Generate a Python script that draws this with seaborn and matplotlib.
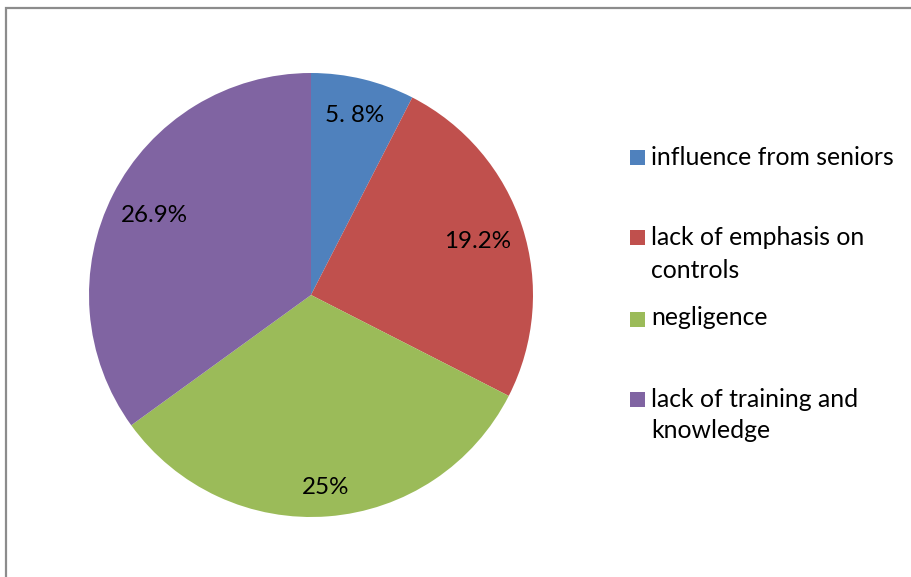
import matplotlib
matplotlib.use("Agg")
import matplotlib.pyplot as plt
from matplotlib.patches import Rectangle
import numpy as np
import seaborn as sns

sns.set_theme(style="white")
plt.rcParams["font.family"] = ["Lato", "DejaVu Sans"]

categories = ["influence from seniors", "lack of emphasis on\ncontrols",
              "negligence", "lack of training and\nknowledge"]
values = [5.8, 19.2, 25.0, 26.9]
value_labels = ["5. 8%", "19.2%", "25%", "26.9%"]
colors = ["#4F81BD", "#C0504D", "#9BBB59", "#8064A2"]

W, H = 912, 577
fig = plt.figure(figsize=(W / 100, H / 100), dpi=100)
fig.patch.set_facecolor("white")

# outer chart frame (only top and left edges fall inside the image)
fig.patches.append(Rectangle((6.5 / W, -0.1), 1.2, (H - 7.5) / H + 0.1,
                             transform=fig.transFigure, fill=False,
                             edgecolor="#8c8c8c", linewidth=1.6))

cx, cy, r = 311, 295, 222
ax = fig.add_axes([(cx - r) / W, (H - cy - r) / H, 2 * r / W, 2 * r / H])
wedges, _ = ax.pie(values, colors=colors, startangle=90, counterclock=False,
                   radius=1.0, wedgeprops=dict(linewidth=0))
ax.set_xlim(-1, 1)
ax.set_ylim(-1, 1)
ax.set_aspect("equal")
ax.axis("off")

label_dist = [0.83, 0.79, 0.87, 0.79]
for w, txt, d in zip(wedges, value_labels, label_dist):
    ang = np.deg2rad((w.theta1 + w.theta2) / 2)
    ax.text(d * np.cos(ang), d * np.sin(ang), txt, ha="center", va="center",
            fontsize=17.4, color="black")

# legend
box_top = [150, 230, 312, 392]
baselines = [[165], [245, 278], [325], [407, 438]]
for c, lab, top, bls in zip(colors, categories, box_top, baselines):
    fig.patches.append(Rectangle((630 / W, (H - top - 15) / H), 15 / W, 15 / H,
                                 transform=fig.transFigure, facecolor=c,
                                 edgecolor="none"))
    for line, bl in zip(lab.split("\n"), bls):
        fig.text(651 / W, (H - bl) / H, line, ha="left", va="baseline",
                 fontsize=17.8, color="black")

fig.savefig("out.png", dpi=100)
